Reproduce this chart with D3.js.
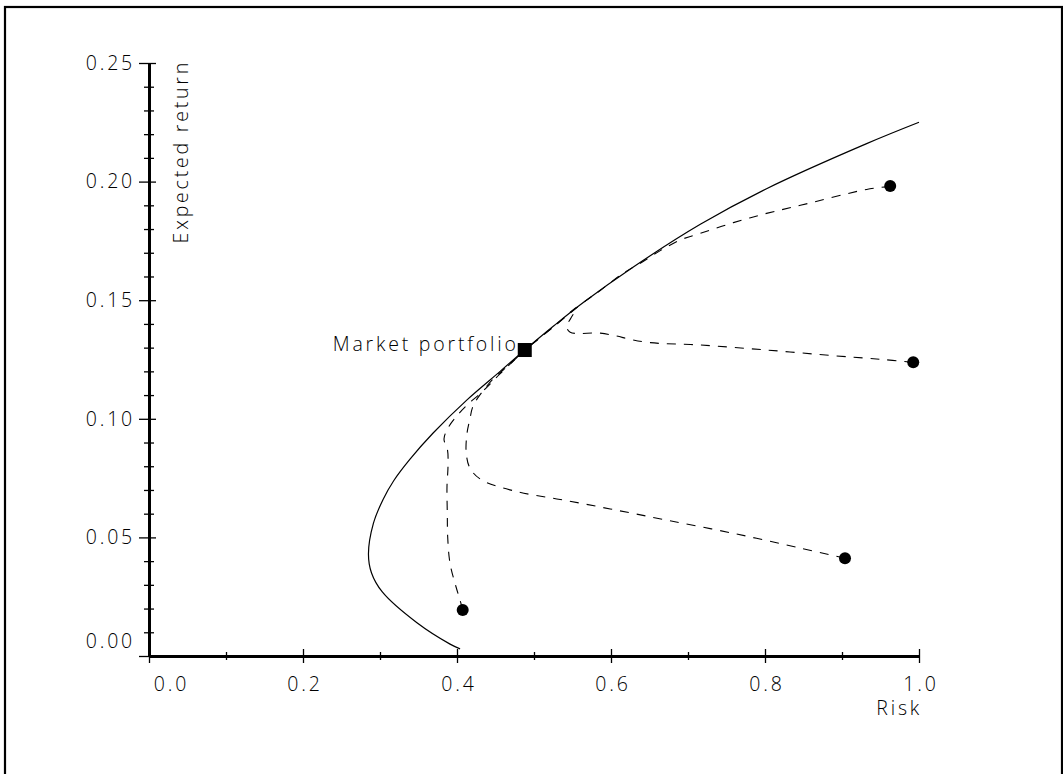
<!DOCTYPE html>
<html>
<head>
<meta charset="utf-8">
<script src="https://cdn.jsdelivr.net/npm/d3@7"></script>
<style>
  html, body { margin: 0; padding: 0; background: #fff; }
  svg { display: block; }
  text { font-family: "Open Sans", "DejaVu Sans", sans-serif; font-weight: 300; fill: #000; letter-spacing: 2.8px; }
</style>
</head>
<body>
<script>
// ---------------- data ----------------
const xTicksMajor = [0.0, 0.2, 0.4, 0.6, 0.8, 1.0];
const xTicksMinor = [0.1, 0.3, 0.5, 0.7, 0.9];
const yTicksMajor = [0.00, 0.05, 0.10, 0.15, 0.20, 0.25];
const yTicksMinor = [0.01,0.02,0.03,0.04,0.06,0.07,0.08,0.09,0.11,0.12,0.13,0.14,0.16,0.17,0.18,0.19,0.21,0.22,0.23,0.24];

// efficient frontier (risk, expected return)
const frontierRisk =   [1.000, 0.932, 0.802, 0.716, 0.629, 0.564, 0.525, 0.488, 0.456, 0.413, 0.369, 0.339, 0.318, 0.304, 0.2915, 0.285, 0.289, 0.303, 0.348, 0.391, 0.404];
const frontierReturn = [0.225, 0.216, 0.197, 0.182, 0.164, 0.149, 0.139, 0.129, 0.120, 0.108, 0.094, 0.083, 0.074, 0.066, 0.056, 0.043, 0.035, 0.027, 0.014, 0.005, 0.003];

// adjustment paths from individual assets to the market portfolio
const pathARisk =   [0.963, 0.932, 0.846, 0.802, 0.759, 0.716, 0.690, 0.664, 0.638, 0.616, 0.586, 0.564, 0.525, 0.488];
const pathAReturn = [0.198, 0.1967, 0.190, 0.1866, 0.1827, 0.1782, 0.1754, 0.1709, 0.1656, 0.1614, 0.1541, 0.149, 0.1387, 0.129];

const pathBRisk =   [0.9925, 0.949, 0.889, 0.802, 0.716, 0.651, 0.625, 0.607, 0.586, 0.547, 0.5425, 0.548, 0.556, 0.525, 0.488];
const pathBReturn = [0.1238, 0.1251, 0.1266, 0.129, 0.1311, 0.1321, 0.1335, 0.1349, 0.1361, 0.1365, 0.1388, 0.1425, 0.1470, 0.1387, 0.129];

const pathCRisk =   [0.904, 0.846, 0.759, 0.672, 0.599, 0.534, 0.478, 0.432, 0.417, 0.412, 0.413, 0.417, 0.420, 0.427, 0.447, 0.469, 0.488];
const pathCReturn = [0.0412, 0.0455, 0.0517, 0.0573, 0.0620, 0.0660, 0.0693, 0.0742, 0.0791, 0.0855, 0.0939, 0.1003, 0.1046, 0.1088, 0.1168, 0.1231, 0.129];

const pathDRisk =   [0.4074, 0.4039, 0.3987, 0.3909, 0.3879, 0.3874, 0.3870, 0.3883, 0.3877, 0.3831, 0.3883, 0.3987, 0.4117, 0.4325, 0.4558, 0.488];
const pathDReturn = [0.0194, 0.0236, 0.0292, 0.0391, 0.0503, 0.0602, 0.0714, 0.0798, 0.0868, 0.0915, 0.0961, 0.1008, 0.1054, 0.1113, 0.1189, 0.129];

const assetRisk =   [0.9626, 0.9925, 0.9039, 0.4074];
const assetReturn = [0.1981, 0.1238, 0.0412, 0.0194];

const marketRisk = 0.488, marketReturn = 0.129;
const marketLabel = "Market portfolio";

const xLabel = "Risk";
const yLabel = "Expected return";

// ---------------- drawing ----------------
const W = 1063, H = 774;
const FS = 19.5;
const svg = d3.select("body").append("svg").attr("width", W).attr("height", H);

// outer frame
svg.append("rect").attr("x", 5).attr("y", 7).attr("width", 1057).attr("height", 800)
  .attr("fill", "none").attr("stroke", "#000").attr("stroke-width", 2.2);

const x = d3.scaleLinear().domain([0, 1]).range([149, 919]);
const y = d3.scaleLinear().domain([0, 0.25]).range([656, 63]);

const zip = (a, b) => a.map((v, i) => [v, b[i]]);
const line = d3.line().x(d => x(d[0])).y(d => y(d[1])).curve(d3.curveCatmullRom.alpha(0.5));

// x axis
const gx = svg.append("g").attr("transform", `translate(0,${y(0)})`);
gx.call(d3.axisBottom(x).tickValues(xTicksMajor).tickSizeInner(7).tickSizeOuter(0).tickPadding(14)
  .tickFormat(d3.format(".1f")));
gx.select(".domain").attr("stroke-width", 3).attr("stroke", "#000");
gx.selectAll(".tick line").attr("y1", d => d === 0 ? 0 : -7).attr("y2", 7).attr("stroke-width", 1.3);
gx.selectAll(".tick text").attr("font-size", FS).attr("font-family", null)
  .attr("dx", d => d === 0 ? 22 : 1.5);
const gxm = svg.append("g").attr("transform", `translate(0,${y(0)})`);
gxm.call(d3.axisBottom(x).tickValues(xTicksMinor).tickSize(4).tickFormat(""));
gxm.select(".domain").remove();
gxm.selectAll(".tick line").attr("y1", -4).attr("y2", 4).attr("stroke-width", 1.3);

// y axis
const gy = svg.append("g").attr("transform", `translate(${x(0)},0)`);
gy.call(d3.axisLeft(y).tickValues(yTicksMajor).tickSizeInner(10).tickSizeOuter(0).tickPadding(4)
  .tickFormat(d3.format(".2f")));
gy.select(".domain").attr("stroke-width", 3).attr("stroke", "#000");
gy.selectAll(".tick line").attr("x1", d => d === 0 ? 0 : 7).attr("x2", -10).attr("stroke-width", 1.3);
gy.selectAll(".tick text").attr("font-size", FS).attr("font-family", null)
  .attr("dy", d => d === 0 ? "-0.42em" : "0.32em");
const gym = svg.append("g").attr("transform", `translate(${x(0)},0)`);
gym.call(d3.axisLeft(y).tickValues(yTicksMinor).tickSize(5).tickFormat(""));
gym.select(".domain").remove();
gym.selectAll(".tick line").attr("x1", 5).attr("x2", -5).attr("stroke-width", 1.3);

svg.selectAll(".tick text").attr("fill", "#000");

// axis titles
svg.append("text").attr("x", x(1)).attr("y", 715).attr("text-anchor", "end")
  .attr("font-size", FS).attr("dx", 3).text(xLabel);
svg.append("text").attr("transform", `translate(188,${y(0.25)}) rotate(-90)`)
  .attr("text-anchor", "end").attr("font-size", FS).attr("dx", 3).text(yLabel);

// frontier
svg.append("path").attr("d", line(zip(frontierRisk, frontierReturn)))
  .attr("fill", "none").attr("stroke", "#000").attr("stroke-width", 1.2);

// dashed paths
[[pathARisk, pathAReturn], [pathBRisk, pathBReturn], [pathCRisk, pathCReturn], [pathDRisk, pathDReturn]]
  .forEach(([r, m]) => {
    svg.append("path").attr("d", line(zip(r, m)))
      .attr("fill", "none").attr("stroke", "#000").attr("stroke-width", 1.1)
      .attr("stroke-dasharray", "9,8");
  });

// asset dots
svg.selectAll("circle.asset").data(zip(assetRisk, assetReturn)).join("circle")
  .attr("class", "asset").attr("cx", d => x(d[0])).attr("cy", d => y(d[1])).attr("r", 6).attr("fill", "#000");

// market portfolio
svg.append("rect").attr("x", x(marketRisk) - 7).attr("y", y(marketReturn) - 7)
  .attr("width", 14).attr("height", 14).attr("fill", "#000");
svg.append("text").attr("x", x(marketRisk) - 9).attr("y", y(marketReturn) + 0.5)
  .attr("text-anchor", "end").attr("font-size", FS).attr("dx", 3).text(marketLabel);
</script>
</body>
</html>
